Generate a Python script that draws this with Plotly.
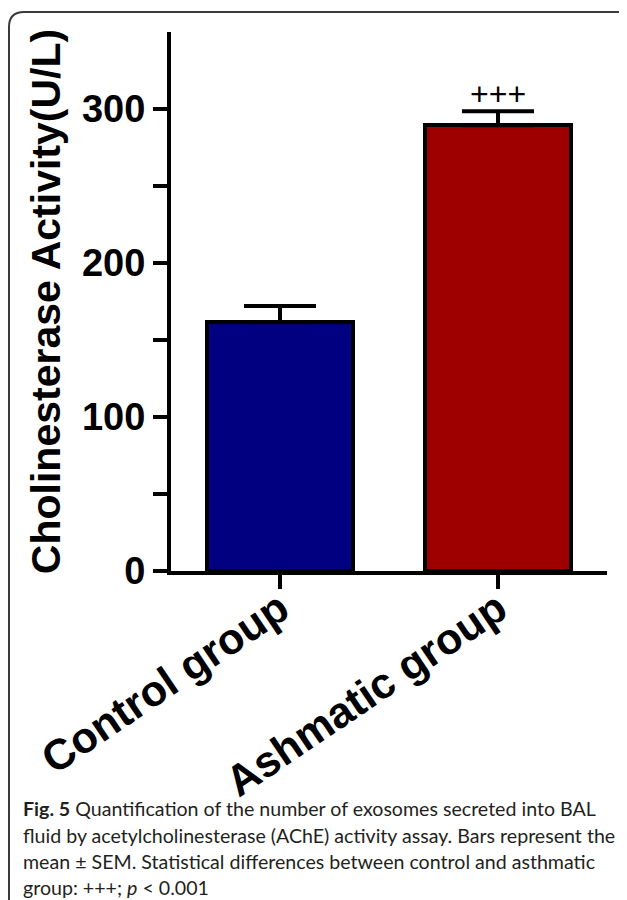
import plotly.graph_objects as go

categories = ["Control group", "Ashmatic group"]
means = [161.5, 289.5]
sems = [10.5, 9.0]
bar_colors = ["#000080", "#9E0000"]
y_ticks = [0, 50, 100, 150, 200, 250, 300]
y_ticktext = ["0", "", "100", "", "200", "", "300"]
y_title = "Cholinesterase Activity(U/L)"
sig_label = "+++"
caption_lines = [
    "<b>Fig. 5</b> Quantification of the number of exosomes secreted into BAL",
    "fluid by acetylcholinesterase (AChE) activity assay. Bars represent the",
    "mean ± SEM. Statistical differences between control and asthmatic",
    "group: +++; <i>p</i> &lt; 0.001",
]

# The page body adds an 8px margin, so the figure is laid out 8px smaller
OFF = 8
W, H = 627 - OFF, 900 - OFF
ML, MR, MT, MB = 171 - OFF, 20, 32 - OFF, 900 - 571
PW, PH = W - ML - MR, H - MT - MB

def px(x):
    return (x - OFF - ML) / PW

def py(y):
    return (H - MB - (y - OFF)) / PH

fig = go.Figure()
fig.add_trace(go.Bar(
    x=[0, 1], y=means, width=0.67,
    marker=dict(color=bar_colors, line=dict(color="black", width=4)),
    error_y=dict(type="data", array=sems, arrayminus=[0, 0], symmetric=False,
                 color="black", thickness=4, width=36),
))

fig.add_annotation(x=1, y=means[1] + sems[1], text=sig_label, showarrow=False,
                   yanchor="bottom", yshift=-3,
                   font=dict(family="Liberation Sans, Arial", size=32, color="black"))

line_y = [808, 835, 861, 887]
for txt, yy in zip(caption_lines, line_y):
    fig.add_annotation(xref="paper", yref="paper", x=px(21), y=py(yy), xanchor="left",
                       yanchor="middle", align="left", text=txt, showarrow=False,
                       font=dict(family="Lato", size=19.6, color="#231f20"))

# frame (rounded corner border)
r = 15
path = (f"M {px(9)},{py(910)} L {px(9)},{py(12 + r)} Q {px(9)},{py(12)} {px(9 + r)},{py(12)} "
        f"L {px(640)},{py(12)}")
fig.add_shape(type="path", xref="paper", yref="paper", path=path,
              line=dict(color="#3a3a3a", width=2))

fig.update_layout(
    width=W, height=H, margin=dict(l=ML, r=MR, t=MT, b=MB),
    plot_bgcolor="white", paper_bgcolor="white", showlegend=False,
    bargap=0,
)
fig.update_xaxes(
    range=[-0.5, 1.5], tickvals=[0, 1], ticktext=categories, tickangle=-34,
    showline=True, linecolor="black", linewidth=4, ticks="outside", ticklen=14,
    tickwidth=4, tickcolor="black", showgrid=False, zeroline=False,
    ticklabelstandoff=-22,
    tickfont=dict(family="Liberation Sans, Arial", size=43, color="black", weight="bold"),
)
fig.update_yaxes(
    range=[0, 350], tickvals=y_ticks, ticktext=y_ticktext,
    showline=True, linecolor="black", linewidth=4, ticks="outside", ticklen=14,
    tickwidth=4, tickcolor="black", showgrid=False, zeroline=False,
    tickfont=dict(family="Liberation Sans, Arial", size=38, color="black", weight="bold"),
    title=dict(text=y_title, standoff=10,
               font=dict(family="Liberation Sans, Arial", size=41, color="black", weight="bold")),
)

fig.write_html("out.html")
